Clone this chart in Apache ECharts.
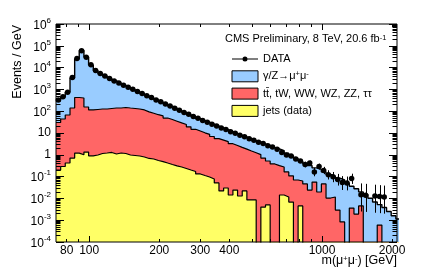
<!DOCTYPE html>
<html><head><meta charset="utf-8">
<script src="https://cdn.jsdelivr.net/npm/echarts@6/dist/echarts.min.js"></script>
<style>html,body{margin:0;padding:0;background:#fff}#c{width:427px;height:273px}</style>
</head><body><div id="c"></div>
<script>
// ---- binning (GeV) ----
const binEdges = [72.0, 75.4, 78.9, 82.7, 86.6, 90.6, 94.9, 99.4, 104.1, 109.0,
  114.1, 119.5, 125.1, 131.0, 137.2, 143.7, 150.4, 157.5, 164.9, 172.7,
  180.9, 189.4, 198.3, 207.7, 217.4, 227.7, 238.4, 249.7, 261.4, 273.7,
  286.6, 300.2, 314.3, 329.1, 344.6, 360.9, 377.9, 395.7, 414.3, 433.8,
  454.3, 475.7, 498.1, 521.6, 546.2, 571.9, 598.9, 627.1, 656.6, 687.6,
  720.0, 753.9, 789.5, 826.7, 865.6, 906.4, 949.1, 993.9, 1040.7, 1089.8,
  1141.1, 1194.9, 1251.2, 1310.2, 1371.9, 1436.6, 1504.3, 1575.2, 1649.4, 1727.1,
  1808.5, 1893.8, 1983.0, 2076.5, 2174.3];

// ---- data (events / GeV) ----
const dataVals = [330, 460, 740, 3500, 26000, 60000, 30000, 13500, 7400, 5300,
  4100, 3150, 2450, 1950, 1550, 1240, 1010, 800, 655, 515,
  420, 330, 270, 212, 172, 137, 112, 88, 72, 57,
  47, 37, 31.5, 25, 21, 17, 14.5, 11.3, 9.7, 7.8,
  6.8, 5.4, 4.7, 3.8, 3.3, 2.6, 2.25, 1.8, 1.28, 0.98,
  0.88, 0.64, 0.52, 0.36, 0.417, 0.164, 0.290, 0.192, 0.122, 0.0975,
  0.0743, 0.0533, 0.0509, 0.081, 0, 0.0148, 0.0141, 0, 0.0129, 0.0123,
  0.0117, 0, 0, 0];
const dataErrLow = [null, null, null, null, null, null, null, null, null, null,
  null, null, null, null, null, null, null, null, null, null,
  null, null, null, null, null, null, null, null, null, null,
  null, null, null, null, null, null, null, null, null, null,
  null, null, null, null, null, null, null, null, null, null,
  null, null, null, 0.265, 0.317, 0.1035, 0.211, 0.1295, 0.0737, 0.0554,
  0.0388, 0.0243, 0.0233, 0.046, null, 0.0025, 0.0024, null, 0.0022, 0.0021,
  0.0020, null, null, null];
const dataErrHigh = [null, null, null, null, null, null, null, null, null, null,
  null, null, null, null, null, null, null, null, null, null,
  null, null, null, null, null, null, null, null, null, null,
  null, null, null, null, null, null, null, null, null, null,
  null, null, null, null, null, null, null, null, null, null,
  null, null, null, 0.483, 0.543, 0.252, 0.394, 0.280, 0.195, 0.163,
  0.133, 0.105, 0.1005, 0.136, null, 0.0487, 0.0465, null, 0.0425, 0.0405,
  0.0387, null, null, null];

// ---- stacked MC (tops of each stacked layer, events / GeV) ----
const stackTotal = [320, 448, 760, 3330, 24800, 60800, 30600, 13200, 7360, 5360,
  4120, 3160, 2430, 1970, 1540, 1250, 1000, 802, 649, 520,
  416, 333, 267, 214, 171, 139, 111, 89, 71.3, 57.1,
  46.2, 37.8, 31.3, 25.6, 20.9, 17.3, 14.2, 11.5, 9.6, 8.0,
  6.7, 5.5, 4.6, 3.9, 3.2, 2.7, 2.2, 1.87, 1.56, 1.18,
  0.90, 0.68, 0.51, 0.40, 0.32, 0.25, 0.215, 0.164, 0.125, 0.105,
  0.085, 0.07, 0.051, 0.036, 0.0275, 0.0199, 0.0150, 0.0102, 0.0068, 0.0052,
  0.0038, 0.0025, 0.0016, 0.00114];
const stackTT = [30.3, 43.9, 67, 140, 425, 403, 156, 114, 120, 126,
  126, 133, 140, 140, 148, 140, 133, 126, 114, 92.9,
  80.2, 69.1, 61, 48.5, 41.6, 34.8, 29.0, 24.5, 19.1, 14.8,
  12.4, 10.2, 8.7, 6.9, 5.5, 4.72, 4.0, 3.23, 2.67, 2.18,
  1.81, 1.49, 1.24, 1.02, 0.71, 0.52, 0.38, 0.32, 0.275, 0.163,
  0.107, 0.070, 0.063, 0.046, 0.024, 0.056, 0.0197, 0.046, 0.0104, 0.0116,
  0.0029, 0.00083, 0, 0.0036, 0.0019, 0.0045, 0, 0, 0, 0.0006,
  0, 0, 0, 0];
const stackJets = [0.20, 0.29, 0.42, 0.71, 1.2, 1.0, 1.34, 0.9, 0.98, 1.15,
  1.21, 1.28, 1.09, 1.21, 1.15, 0.98, 0.93, 0.88, 0.79, 0.68,
  0.64, 0.55, 0.49, 0.42, 0.36, 0.31, 0.275, 0.235, 0.20, 0.171,
  0.132, 0.112, 0.096, 0.078, 0.051, 0.022, 0.030, 0.0143, 0.024, 0.0129,
  0.022, 0.0085, 0.0085, 0, 0.0040, 0.0050, 0, 0, 0.0143, 0.0116,
  0.0068, 0, 0.0045, 0, 0, 0, 0, 0, 0, 0,
  0, 0, 0, 0, 0, 0, 0, 0, 0, 0,
  0, 0, 0, 0];

// ---- axes ----
const xTickLabels = [80, 100, 200, 300, 400, 1000, 2000];
const xMinorTicks = [80, 90, 200, 300, 400, 500, 600, 700, 800, 900, 2000];
const xMajorTicks = [100, 1000];
const yTickLabels = [1e-4, 1e-3, 1e-2, 1e-1, 1, 10, 100, 1e3, 1e4, 1e5, 1e6];
const yMinorTicks = [];
for (let e = -4; e < 6; e++) for (let m = 2; m <= 9; m++) yMinorTicks.push(m * Math.pow(10, e));

const seriesNames = ['DATA', 'γ/Z→μμ', 'tt̄, tW, WW, WZ, ZZ, ττ', 'jets (data)'];
const colors = { dy: '#99ccff', tt: '#ff6666', jets: '#ffff66' };
const FONT = "'Liberation Sans', Arial, Helvetica, sans-serif";

const nB = binEdges.length - 1;
const centers = binEdges.slice(0, nB).map((e, i) => Math.sqrt(e * binEdges[i + 1]));
const floorVal = v => (v > 0 ? v : 1e-9); // empty bins go below the axis and are clipped
function stepPts(vals) {
  const pts = vals.map((v, i) => [binEdges[i], floorVal(v)]);
  pts.push([binEdges[nB], floorVal(vals[nB - 1])]);
  return pts;
}
function histSeries(name, vals, fill, lw) {
  return {
    type: 'line', name, step: 'end', data: stepPts(vals), showSymbol: false, symbol: 'none',
    color: fill, clip: true, silent: true, z: 2,
    lineStyle: { color: '#000', width: lw },
    areaStyle: { color: fill, opacity: 1, origin: 'start' }
  };
}

const dataPts = [];
const errPts = [];
dataVals.forEach((v, i) => {
  if (v > 0) dataPts.push([centers[i], v]);
  if (dataErrLow[i] != null) errPts.push([centers[i], dataErrLow[i], dataErrHigh[i]]);
});

function xAx(pos, ticks, len, labels) {
  return {
    type: 'log', logBase: 10, min: 72, max: 2100, position: pos, z: 12,
    axisLine: { show: false }, splitLine: { show: false },
    axisTick: { show: true, inside: true, length: len, customValues: ticks, lineStyle: { color: '#000', width: 1 } },
    axisLabel: labels ? { show: true, customValues: labels, margin: 3, fontSize: 12, color: '#000', fontFamily: FONT,
      formatter: v => String(Math.round(v)) } : { show: false }
  };
}
function yAx(pos, ticks, len, labels) {
  return {
    type: 'log', logBase: 10, min: 1e-4, max: 1e6, position: pos, z: 12,
    axisLine: { show: false }, splitLine: { show: false },
    axisTick: { show: true, inside: true, length: len, customValues: ticks, lineStyle: { color: '#000', width: 1 } },
    axisLabel: labels ? {
      show: true, customValues: labels, margin: 5, color: '#000', fontFamily: FONT,
      formatter: v => {
        const e = Math.round(Math.log10(v));
        if (e === 0) return '{p|1}';
        if (e === 1) return '{p|10}';
        return '{b|10}{s|' + (e < 0 ? '-' + (-e) : e) + '}';
      },
      rich: {
        p: { fontSize: 12, fontFamily: FONT, color: '#000' },
        b: { fontSize: 12, fontFamily: FONT, color: '#000', padding: [3, 0, 0, 0] },
        s: { fontSize: 8, fontFamily: FONT, color: '#000', verticalAlign: 'top' }
      }
    } : { show: false }
  };
}

const supRich = { s: { fontSize: 7.5, fontFamily: FONT, color: '#000', verticalAlign: 'top' } };

const chart = echarts.init(document.getElementById('c'), null, { renderer: 'canvas' });
chart.setOption({
  animation: false,
  backgroundColor: '#fff',
  textStyle: { fontFamily: FONT },
  grid: { left: 56, right: 30, top: 24, bottom: 31, show: true, borderColor: '#000', borderWidth: 1,
    backgroundColor: 'transparent', z: 10, containLabel: false, outerBoundsMode: 'none' },
  xAxis: [
    xAx('bottom', xMinorTicks, 3, xTickLabels),
    xAx('bottom', xMajorTicks, 6, null),
    xAx('top', xMinorTicks, 3, null),
    xAx('top', xMajorTicks, 6, null)
  ],
  yAxis: [
    yAx('left', yTickLabels, 8, yTickLabels),
    yAx('left', yMinorTicks, 4.5, null),
    yAx('right', yTickLabels, 8, null),
    yAx('right', yMinorTicks, 4.5, null)
  ],
  legend: {
    orient: 'vertical', left: 226.5, top: 47.5, itemWidth: 26, itemHeight: 11, itemGap: 4.3,
    selectedMode: false,
    textStyle: { fontSize: 11, fontFamily: FONT, color: '#000', lineHeight: 13, rich: supRich },
    formatter: name => name === seriesNames[1] ? 'γ/Z→μ{s|+}μ{s|-}' : name,
    data: [
      { name: seriesNames[0], icon: 'path://M0,5L10.5,5L10.5,6L0,6Z M15.5,5L26,5L26,6L15.5,6Z M10.5,5.5A2.5,2.5 0 1 0 15.5,5.5A2.5,2.5 0 1 0 10.5,5.5Z',
        itemStyle: { color: '#000', borderWidth: 0 } },
      { name: seriesNames[1], icon: 'rect', itemStyle: { color: colors.dy, borderColor: '#000', borderWidth: 1 } },
      { name: seriesNames[2], icon: 'rect', itemStyle: { color: colors.tt, borderColor: '#000', borderWidth: 1 } },
      { name: seriesNames[3], icon: 'rect', itemStyle: { color: colors.jets, borderColor: '#000', borderWidth: 1 } }
    ]
  },
  graphic: [
    { type: 'text', x: 225, y: 39, silent: true,
      style: { text: 'CMS Preliminary, 8 TeV, 20.6 fb{s|-1}', font: '11px ' + FONT, fill: '#000',
        align: 'left', textAlign: 'left', verticalAlign: 'middle', textVerticalAlign: 'middle', rich: supRich } },
    { type: 'text', x: 18, y: 25, rotation: Math.PI / 2, silent: true,
      style: { text: 'Events / GeV', font: '12.5px ' + FONT, fill: '#000',
        align: 'right', textAlign: 'right', verticalAlign: 'middle', textVerticalAlign: 'middle' } },
    { type: 'text', x: 397, y: 261, silent: true,
      style: { text: 'm(μ{s|+}μ{s|-}) [GeV]', font: '12.5px ' + FONT, fill: '#000',
        align: 'right', textAlign: 'right', verticalAlign: 'middle', textVerticalAlign: 'middle', rich: supRich } }
  ],
  series: [
    histSeries(seriesNames[1], stackTotal, colors.dy, 1.4),
    histSeries(seriesNames[2], stackTT, colors.tt, 1.2),
    histSeries(seriesNames[3], stackJets, colors.jets, 1.2),
    {
      type: 'custom', name: 'data errors', data: errPts, silent: true, z: 4, clip: true,
      encode: { x: 0, y: [1, 2] },
      renderItem: (params, api) => {
        const x = api.value(0);
        const p1 = api.coord([x, api.value(1)]);
        const p2 = api.coord([x, api.value(2)]);
        const px = Math.round(p1[0]) + 0.5;
        return { type: 'line', shape: { x1: px, y1: p1[1], x2: px, y2: p2[1] }, style: { stroke: '#000', lineWidth: 1 } };
      }
    },
    {
      type: 'line', name: seriesNames[0], data: dataPts, symbol: 'circle', symbolSize: 5.5,
      showSymbol: true, showAllSymbol: true, silent: true, z: 5, color: '#000',
      itemStyle: { color: '#000' }, lineStyle: { width: 0, opacity: 0 }
    }
  ]
});
</script>
</body></html>
